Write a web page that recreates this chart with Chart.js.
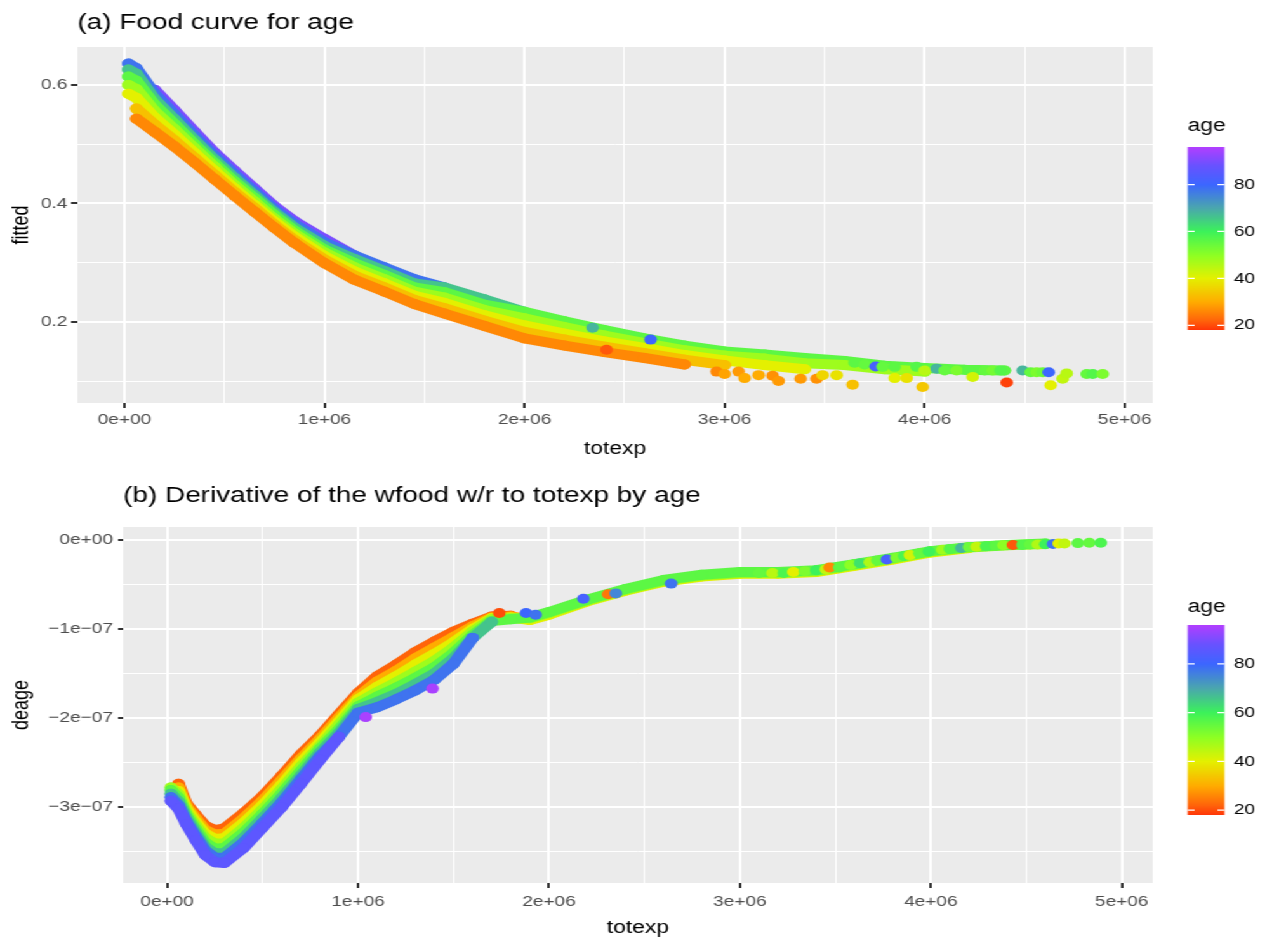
<!doctype html>
<html lang="en">
<head>
<meta charset="utf-8">
<title>Food curve for age</title>
<script src="https://cdn.jsdelivr.net/npm/chart.js@4.4.0/dist/chart.umd.min.js"></script>
<style>
  body { margin: 0; background: #fff; overflow: hidden; }
  /* the figure is laid out narrow and widened as a whole */
  #page { position: absolute; left: 0; top: 0; width: 998px; height: 941px;
          transform: scaleX(1.2695); transform-origin: 0 0; }
  #page canvas { position: absolute; left: 0; }
</style>
</head>
<body>
<div id="page">
  <canvas id="foodChart" width="998" height="470" style="top:0"></canvas>
  <canvas id="derivChart" width="998" height="471" style="top:470px"></canvas>
</div>
<script>
// ---- panel (a): fitted food share by totexp (millions), one row per age group
// rows stop where that age group runs out of households
const totexpA = [0.02, 0.06, 0.15, 0.25, 0.35, 0.45, 0.55, 0.65, 0.75, 0.85, 1.0, 1.15, 1.3, 1.45, 1.6,
                 1.8, 2.0, 2.2, 2.4, 2.6, 2.8, 3.0, 3.2, 3.4, 3.6, 3.8, 4.0, 4.2, 4.4];
const agesA = [26, 33, 40, 48, 56, 66, 78, 90];
const fitted26 = [null, 0.543, 0.521, 0.496, 0.469, 0.441, 0.413, 0.386, 0.359, 0.333, 0.299, 0.271, 0.251, 0.230, 0.214,
                  0.193, 0.172, 0.160, 0.149, 0.139, 0.128];
const fitted33 = [null, 0.560, 0.533, 0.506, 0.477, 0.448, 0.419, 0.392, 0.364, 0.338, 0.305, 0.278, 0.258, 0.237, 0.223,
                  0.202, 0.183, 0.170, 0.158, 0.147, 0.136, 0.127];
const fitted40 = [0.585, 0.578, 0.545, 0.516, 0.485, 0.455, 0.425, 0.397, 0.369, 0.344, 0.311, 0.285, 0.265, 0.244, 0.232,
                  0.211, 0.194, 0.180, 0.167, 0.156, 0.144, 0.135, 0.127, 0.120];
const fitted48 = [0.600, 0.593, 0.556, 0.525, 0.493, 0.462, 0.431, 0.403, 0.374, 0.349, 0.317, 0.292, 0.272, 0.251, 0.241,
                  0.220, 0.206, 0.191, 0.177, 0.164, 0.152, 0.143, 0.138, 0.130, 0.127, 0.120, 0.116];
const fitted56 = [0.614, 0.607, 0.567, 0.534, 0.500, 0.468, 0.437, 0.409, 0.380, 0.354, 0.322, 0.299, 0.279, 0.258, 0.250,
                  0.229, 0.217, 0.201, 0.186, 0.172, 0.160, 0.150, 0.145, 0.139, 0.134, 0.126, 0.122, 0.119, 0.118];
const fitted66 = [0.626, 0.619, 0.576, 0.542, 0.507, 0.474, 0.443, 0.414, 0.385, 0.359, 0.328, 0.306, 0.286, 0.265, 0.258,
                  0.238, 0.217];
const fitted78 = [0.636, 0.628, 0.585, 0.550, 0.514, 0.480, 0.449, 0.420, 0.390, 0.365, 0.334, 0.312, 0.292, 0.272, 0.258];
const fitted90 = [null, null, 0.592, 0.557, 0.521, 0.486, 0.455, 0.425, 0.395, 0.370, 0.340, 0.312];

// scattered households out in the right tail
const tailA_totexp = [2.34, 2.41, 2.63, 2.96, 3.00, 3.07, 3.10, 3.17, 3.24, 3.27, 3.38, 3.46, 3.49, 3.56, 3.64,
                      3.65, 3.70, 3.755, 3.79, 3.85, 3.85, 3.91, 3.96, 3.99, 4.00, 4.06, 4.10, 4.16, 4.22, 4.24,
                      4.30, 4.34, 4.38, 4.41, 4.49, 4.53, 4.56, 4.59, 4.62, 4.63, 4.69, 4.71, 4.81, 4.84, 4.89];
const tailA_fitted = [0.190, 0.153, 0.170, 0.116, 0.112, 0.116, 0.105, 0.110, 0.109, 0.100, 0.104, 0.104, 0.110, 0.110, 0.094,
                      0.131, 0.128, 0.1245, 0.124, 0.124, 0.105, 0.105, 0.124, 0.090, 0.118, 0.121, 0.118, 0.118, 0.118, 0.107,
                      0.118, 0.118, 0.118, 0.0975, 0.118, 0.115, 0.115, 0.115, 0.115, 0.093, 0.104, 0.113, 0.112, 0.112, 0.112];
const tailA_age = [68, 21, 80, 26, 29, 28, 30, 30, 27, 28, 28, 27, 36, 38, 33,
                   56, 55, 82, 55, 56, 40, 38, 57, 34, 45, 68, 55, 52, 56, 42,
                   55, 53, 57, 19, 68, 55, 52, 54, 80, 40, 44, 45, 55, 57, 52];

// ---- panel (b): derivative of wfood w.r.t. totexp, in units of 1e-07
const totexpB = [0.02, 0.06, 0.1, 0.15, 0.2, 0.25, 0.3, 0.4, 0.5, 0.6, 0.7, 0.8, 0.9, 1.0, 1.1,
                 1.2, 1.3, 1.4, 1.5, 1.6, 1.7, 1.8, 1.9, 2.0, 2.2, 2.4, 2.6, 2.8, 3.0,
                 3.2, 3.4, 3.6, 3.8, 4.0, 4.2, 4.4, 4.6];
const agesB = [22, 30, 40, 48, 56, 66, 78, 86];
const deage22 = [null, -2.74, -2.96, -3.09, -3.21, -3.26, -3.24, -3.07, -2.88, -2.65, -2.41, -2.20, -1.96, -1.72, -1.53,
                 -1.40, -1.26, -1.14, -1.03, -0.94, -0.86, -0.85];
const deage30 = [null, -2.78, -2.99, -3.13, -3.26, -3.31, -3.30, -3.13, -2.93, -2.70, -2.46, -2.24, -2.00, -1.76, -1.59,
                 -1.47, -1.33, -1.21, -1.09, -0.97, -0.87, -0.86, -0.89, -0.83];
const deage40 = [null, -2.82, -3.02, -3.17, -3.30, -3.36, -3.35, -3.18, -2.98, -2.75, -2.50, -2.28, -2.04, -1.79, -1.65,
                 -1.53, -1.40, -1.28, -1.15, -1.00, -0.88, -0.87, -0.90, -0.84, -0.69, -0.57, -0.47, -0.41, -0.38,
                 -0.38, -0.36, -0.29, -0.22, -0.14, -0.09];
const deage48 = [-2.78, -2.86, -3.06, -3.21, -3.35, -3.41, -3.41, -3.24, -3.03, -2.80, -2.55, -2.32, -2.08, -1.83, -1.71,
                 -1.60, -1.48, -1.36, -1.21, -1.03, -0.89, -0.88, -0.88, -0.82, -0.68, -0.56, -0.46, -0.40, -0.37,
                 -0.37, -0.35, -0.28, -0.21, -0.13, -0.085, -0.06, -0.045];
const deage56 = [-2.81, -2.90, -3.09, -3.25, -3.40, -3.47, -3.46, -3.29, -3.08, -2.85, -2.60, -2.35, -2.13, -1.87, -1.76,
                 -1.66, -1.55, -1.43, -1.27, -1.07, -0.91, -0.89, -0.87, -0.81, -0.67, -0.55, -0.45, -0.39, -0.36,
                 -0.36, -0.34, -0.27, -0.20, -0.125, -0.08, -0.055, -0.04];
const deage66 = [-2.85, -2.94, -3.12, -3.29, -3.45, -3.52, -3.52, -3.35, -3.13, -2.90, -2.65, -2.39, -2.17, -1.90, -1.82,
                 -1.73, -1.62, -1.50, -1.33, -1.10, -0.92];
const deage78 = [-2.89, -2.98, -3.16, -3.33, -3.49, -3.57, -3.57, -3.40, -3.18, -2.95, -2.69, -2.43, -2.21, -1.94, -1.88,
                 -1.79, -1.69, -1.57, -1.39, -1.10];
const deage86 = [-2.93, -3.02, -3.19, -3.37, -3.54, -3.62, -3.63, -3.46, -3.23, -3.00, -2.74, -2.47, -2.21];

const tailB_totexp = [1.04, 1.39, 1.74, 1.88, 1.93, 2.18, 2.31, 2.35, 2.64, 3.10, 3.17, 3.23, 3.28, 3.34, 3.40,
                      3.45, 3.47, 3.52, 3.58, 3.63, 3.68, 3.72, 3.77, 3.82, 3.86, 3.89, 3.94, 3.99, 4.06, 4.10,
                      4.16, 4.20, 4.24, 4.29, 4.34, 4.38, 4.43, 4.48, 4.52, 4.56, 4.60, 4.64, 4.67, 4.70, 4.77,
                      4.83, 4.89];
const tailB_deage = [-1.99, -1.67, -0.82, -0.82, -0.84, -0.66, -0.61, -0.60, -0.49, -0.37, -0.37, -0.37, -0.36, -0.35, -0.34,
                     -0.33, -0.31, -0.31, -0.28, -0.26, -0.25, -0.23, -0.22, -0.20, -0.18, -0.17, -0.15, -0.13, -0.11, -0.10,
                     -0.09, -0.08, -0.075, -0.07, -0.065, -0.06, -0.056, -0.055, -0.05, -0.05, -0.047, -0.045, -0.04, -0.04, -0.035,
                     -0.03, -0.03];
const tailB_age = [95, 95, 20, 80, 78, 82, 24, 75, 78, 55, 45, 58, 40, 52, 60,
                   44, 26, 56, 50, 62, 46, 55, 82, 52, 58, 42, 55, 60, 48, 57,
                   68, 54, 44, 58, 56, 50, 21, 57, 55, 46, 60, 78, 40, 44, 56,
                   55, 58];

// ---- axes
const xTickVals = [0, 0.5, 1, 1.5, 2, 2.5, 3, 3.5, 4, 4.5, 5];
const xTickLabels = ['0e+00', '', '1e+06', '', '2e+06', '', '3e+06', '', '4e+06', '', '5e+06'];
const yTickValsA = [0.1, 0.2, 0.3, 0.4, 0.5, 0.6];
const yTickLabelsA = ['', '0.2', '', '0.4', '', '0.6'];
const yTickValsB = [-3.5, -3, -2.5, -2, -1.5, -1, -0.5, 0];
const yTickLabelsB = ['', '\u22123e\u221207', '', '\u22122e\u221207', '', '\u22121e\u221207', '', '0e+00'];

// ---- age colour scale
const stopAges = [17, 22, 30, 40, 50, 60, 70, 80, 88, 96];
const stopColors = ['#ff2a08', '#ff640a', '#ffac00', '#e4f000', '#8cff24', '#3cf25a', '#4aa6ae', '#3c66ff', '#6852ff', '#b23eff'];
const legendTicks = [20, 40, 60, 80];
const legendMin = 18, legendMax = 96;

function hexRgb(h) {
  return [1, 3, 5].map(i => parseInt(h.slice(i, i + 2), 16));
}
function ageColor(a) {
  if (a <= stopAges[0]) return stopColors[0];
  for (let i = 1; i < stopAges.length; i++) {
    if (a <= stopAges[i]) {
      const t = (a - stopAges[i - 1]) / (stopAges[i] - stopAges[i - 1]);
      const c0 = hexRgb(stopColors[i - 1]), c1 = hexRgb(stopColors[i]);
      const c = c0.map((v, k) => Math.round(v + (c1[k] - v) * t));
      return 'rgb(' + c.join(',') + ')';
    }
  }
  return stopColors[stopColors.length - 1];
}

Chart.defaults.font.family = '"Liberation Sans", Arial, sans-serif';

// grey panel behind the grid
const plotBackground = {
  id: 'plotBackground',
  beforeDraw(chart) {
    const { ctx, chartArea: a } = chart;
    ctx.save();
    ctx.fillStyle = '#ebebeb';
    ctx.fillRect(a.left, a.top, a.right - a.left, a.bottom - a.top);
    ctx.restore();
  }
};

// title flush with the panel's left edge
const panelTitle = {
  id: 'panelTitle',
  afterDraw(chart, args, opts) {
    const ctx = chart.ctx;
    ctx.save();
    ctx.font = '22px "Liberation Sans", Arial, sans-serif';
    ctx.fillStyle = '#000';
    ctx.textBaseline = 'alphabetic';
    ctx.fillText(opts.text, chart.chartArea.left, opts.baseline);
    ctx.restore();
  }
};

// continuous colour bar for age
const ageBar = {
  id: 'ageBar',
  afterDraw(chart, args, opts) {
    const ctx = chart.ctx;
    const left = 935.5, w = 29;
    const yOf = a => opts.top + (legendMax - a) / (legendMax - legendMin) * (opts.bottom - opts.top);
    ctx.save();
    const g = ctx.createLinearGradient(0, opts.top, 0, opts.bottom);
    for (let a = legendMin; a <= legendMax; a += 1) {
      g.addColorStop((legendMax - a) / (legendMax - legendMin), ageColor(a));
    }
    ctx.fillStyle = g;
    ctx.fillRect(left, opts.top, w, opts.bottom - opts.top);

    ctx.strokeStyle = '#ffffff';
    ctx.lineWidth = 1.3;
    ctx.fillStyle = '#000';
    ctx.font = '15px "Liberation Sans", Arial, sans-serif';
    ctx.textBaseline = 'middle';
    legendTicks.forEach(a => {
      const y = yOf(a);
      ctx.beginPath();
      ctx.moveTo(left, y); ctx.lineTo(left + 5.5, y);
      ctx.moveTo(left + w - 5.5, y); ctx.lineTo(left + w, y);
      ctx.stroke();
      ctx.fillText(String(a), 972, y);
    });

    ctx.font = '18px "Liberation Sans", Arial, sans-serif';
    ctx.textBaseline = 'alphabetic';
    ctx.fillText('age', left, opts.titleBaseline);
    ctx.restore();
  }
};

function axis(min, max, vals, labels, o) {
  return {
    type: 'linear',
    min: min,
    max: max,
    afterBuildTicks: s => { s.ticks = vals.map(v => ({ value: v })); },
    afterFit: s => {
      if (o.width != null) s.width = o.width;
      if (o.height != null) s.height = o.height;
    },
    border: { display: false },
    grid: {
      color: '#ffffff',
      lineWidth: c => (labels[c.index] ? 2 : 1),
      tickColor: c => (labels[c.index] ? '#333333' : 'rgba(0,0,0,0)'),
      tickWidth: 2,
      tickLength: o.tickLength
    },
    ticks: {
      autoSkip: false,
      maxRotation: 0,
      minRotation: 0,
      padding: o.pad,
      color: '#4d4d4d',
      font: { size: 15 },
      callback: (v, i) => labels[i]
    },
    title: {
      display: true,
      text: o.title,
      color: '#000',
      font: { size: 18 },
      padding: o.titlePad
    }
  };
}

// one thick polyline per age group; oldFirst puts the oldest group on top
function bandSets(grid, rows, ages, yUnit, oldFirst) {
  return ages.map((age, k) => {
    const c = ageColor(age);
    const pts = [];
    grid.forEach((x, i) => {
      if (rows[k][i] != null) pts.push({ x: x * 1e6, y: rows[k][i] * yUnit });
    });
    return {
      data: pts,
      showLine: true,
      borderColor: c,
      backgroundColor: c,
      borderWidth: 10,
      borderCapStyle: 'round',
      borderJoinStyle: 'round',
      pointRadius: 5,
      pointBorderWidth: 0,
      order: oldFirst ? ages.length - k : k
    };
  });
}

function tailSet(xs, ys, ages, yUnit) {
  return {
    data: xs.map((x, i) => ({ x: x * 1e6, y: ys[i] * yUnit })),
    showLine: false,
    pointRadius: 5,
    pointBorderWidth: 0,
    pointBackgroundColor: ages.map(ageColor),
    order: -5
  };
}

function baseOptions(extra) {
  return Object.assign({
    responsive: false,
    animation: false,
    devicePixelRatio: 1,
    events: []
  }, extra);
}

// panel (a)
const setsA = bandSets(totexpA, [fitted26, fitted33, fitted40, fitted48, fitted56, fitted66, fitted78, fitted90], agesA, 1, false);
setsA.push(tailSet(tailA_totexp, tailA_fitted, tailA_age, 1));

new Chart(document.getElementById('foodChart'), {
  type: 'scatter',
  data: { datasets: setsA },
  plugins: [plotBackground, panelTitle, ageBar],
  options: baseOptions({
    layout: { autoPadding: false, padding: { left: 0, right: 90, top: 47, bottom: 7 } },
    scales: {
      x: axis(-235000, 5140000, xTickVals.map(v => v * 1e6), xTickLabels,
              { height: 60, tickLength: 5, pad: 3, title: 'totexp', titlePad: { top: 0, bottom: 3 } }),
      y: axis(0.063, 0.664, yTickValsA, yTickLabelsA,
              { width: 61, tickLength: 5, pad: 3, title: 'fitted', titlePad: { top: 6.5, bottom: 0 } })
    },
    plugins: {
      legend: { display: false },
      tooltip: { enabled: false },
      panelTitle: { text: '(a) Food curve for age', baseline: 28.5 },
      ageBar: { top: 147, bottom: 330, titleBaseline: 131 }
    }
  })
});

// panel (b)
const setsB = bandSets(totexpB, [deage22, deage30, deage40, deage48, deage56, deage66, deage78, deage86], agesB, 1e-7, true);
setsB.push(tailSet(tailB_totexp, tailB_deage, tailB_age, 1e-7));

new Chart(document.getElementById('derivChart'), {
  type: 'scatter',
  data: { datasets: setsB },
  plugins: [plotBackground, panelTitle, ageBar],
  options: baseOptions({
    layout: { autoPadding: false, padding: { left: 0, right: 90, top: 57, bottom: 0 } },
    scales: {
      x: axis(-230400, 5162000, xTickVals.map(v => v * 1e6), xTickLabels,
              { height: 58, tickLength: 5, pad: 5, title: 'totexp', titlePad: { top: 0, bottom: 2 } }),
      y: axis(-3.854e-7, 0.146e-7, yTickValsB.map(v => v * 1e-7), yTickLabelsB,
              { width: 97, tickLength: 4, pad: 4, title: 'deage', titlePad: { top: 6.5, bottom: 0 } })
    },
    plugins: {
      legend: { display: false },
      tooltip: { enabled: false },
      panelTitle: { text: '(b) Derivative of the wfood w/r to totexp by age', baseline: 31.5 },
      ageBar: { top: 155, bottom: 345, titleBaseline: 142 }
    }
  })
});
</script>
</body>
</html>
